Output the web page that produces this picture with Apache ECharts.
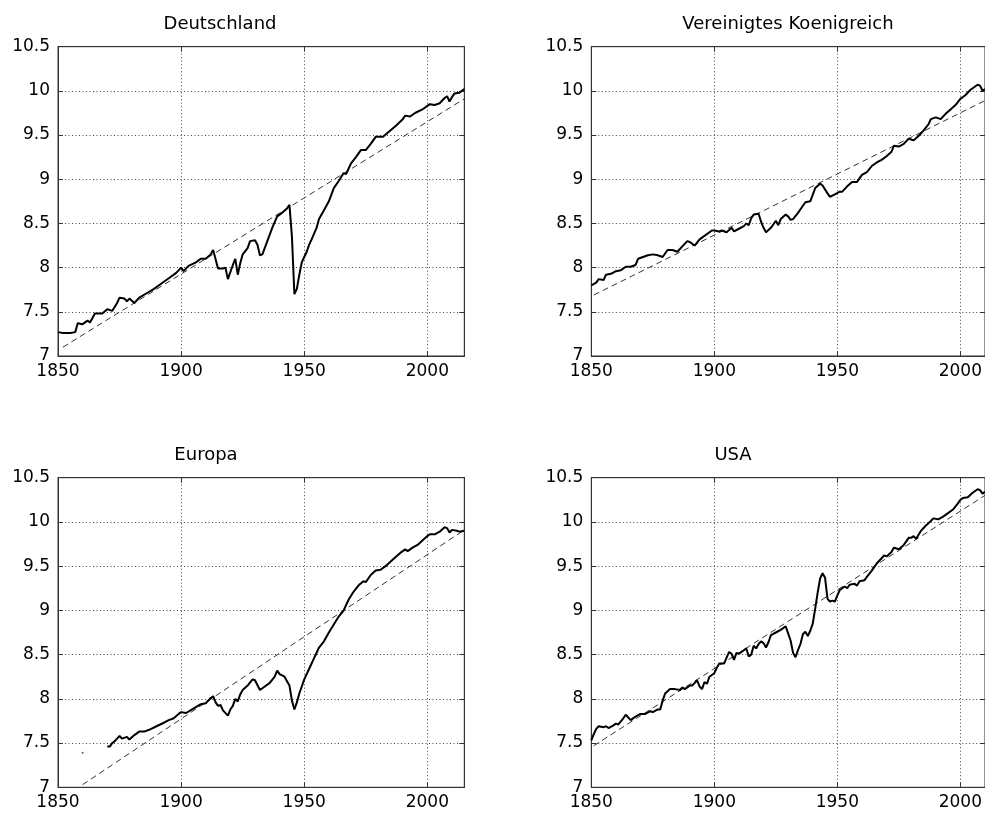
<!DOCTYPE html>
<html>
<head>
<meta charset="utf-8">
<script src="https://cdn.jsdelivr.net/npm/echarts@6/dist/echarts.min.js"></script>
<style>
  html, body { margin: 0; padding: 0; background: #fff; }
  #chart { width: 985px; height: 816px; }
</style>
</head>
<body>
<div id="chart"></div>
<script>
// log GDP per capita
const panelTitles = ['Deutschland', 'Vereinigtes Koenigreich', 'Europa', 'USA'];
const yTicks = [7, 7.5, 8, 8.5, 9, 9.5, 10, 10.5];
const xTicks = [1850, 1900, 1950, 2000];

const deutschland = [
  [1850, 7.27], [1852, 7.26], [1855, 7.26], [1857, 7.27], [1858, 7.37], [1860, 7.36], [1862, 7.40],
  [1863, 7.38], [1865, 7.48], [1868, 7.48], [1870, 7.53], [1872, 7.51], [1874, 7.60], [1875, 7.66],
  [1877, 7.65], [1878, 7.62], [1879, 7.65], [1881, 7.60], [1883, 7.66], [1886, 7.71], [1889, 7.76],
  [1892, 7.82], [1895, 7.88], [1898, 7.94], [1900, 8.00], [1901, 7.96], [1903, 8.02], [1906, 8.06],
  [1908, 8.10], [1910, 8.10], [1912, 8.15], [1913, 8.20], [1915, 7.99], [1917, 7.99], [1918, 8.00],
  [1919, 7.87], [1921, 8.03], [1922, 8.10], [1923, 7.92], [1924, 8.05], [1925, 8.15], [1927, 8.22],
  [1928, 8.30], [1930, 8.31], [1931, 8.26], [1932, 8.14], [1933, 8.15], [1935, 8.30], [1937, 8.45],
  [1939, 8.58], [1941, 8.62], [1943, 8.67], [1944, 8.71], [1945, 8.35], [1946, 7.70], [1947, 7.76],
  [1948, 7.92], [1949, 8.06], [1950, 8.12], [1951, 8.18], [1952, 8.26], [1953, 8.32], [1955, 8.45],
  [1956, 8.55], [1958, 8.65], [1960, 8.75], [1962, 8.90], [1964, 8.98], [1966, 9.07], [1967, 9.06],
  [1969, 9.18], [1971, 9.25], [1973, 9.33], [1975, 9.33], [1977, 9.40], [1979, 9.48], [1982, 9.48],
  [1984, 9.53], [1987, 9.60], [1990, 9.68], [1991, 9.72], [1993, 9.71], [1995, 9.75], [1998, 9.79],
  [2000, 9.83], [2001, 9.85], [2003, 9.84], [2005, 9.86], [2007, 9.92], [2008, 9.94], [2009, 9.88],
  [2010, 9.93], [2011, 9.97], [2013, 9.98], [2014, 10.00], [2015, 10.02]
];

const koenigreich = [
  [1850, 7.80], [1852, 7.83], [1853, 7.87], [1855, 7.86], [1856, 7.92], [1858, 7.93], [1860, 7.96],
  [1862, 7.97], [1864, 8.01], [1866, 8.01], [1868, 8.03], [1869, 8.10], [1871, 8.12], [1873, 8.14],
  [1875, 8.15], [1877, 8.14], [1879, 8.12], [1881, 8.20], [1883, 8.20], [1885, 8.18], [1887, 8.24],
  [1889, 8.30], [1890, 8.29], [1892, 8.25], [1894, 8.32], [1896, 8.36], [1899, 8.42], [1900, 8.42],
  [1902, 8.41], [1903, 8.42], [1905, 8.40], [1907, 8.45], [1908, 8.41], [1910, 8.44], [1912, 8.47],
  [1913, 8.50], [1914, 8.48], [1915, 8.56], [1916, 8.60], [1918, 8.61], [1919, 8.52], [1920, 8.45],
  [1921, 8.40], [1923, 8.45], [1925, 8.53], [1926, 8.48], [1927, 8.55], [1929, 8.60], [1930, 8.58],
  [1931, 8.54], [1932, 8.55], [1934, 8.62], [1936, 8.70], [1937, 8.74], [1939, 8.75], [1941, 8.90],
  [1943, 8.95], [1944, 8.93], [1946, 8.84], [1947, 8.80], [1949, 8.83], [1951, 8.86], [1952, 8.86],
  [1954, 8.92], [1956, 8.97], [1958, 8.97], [1960, 9.05], [1962, 9.08], [1964, 9.15], [1966, 9.19],
  [1968, 9.22], [1970, 9.26], [1972, 9.31], [1973, 9.38], [1975, 9.37], [1977, 9.40], [1979, 9.46],
  [1980, 9.45], [1981, 9.44], [1983, 9.49], [1985, 9.55], [1987, 9.62], [1988, 9.68], [1990, 9.70],
  [1992, 9.68], [1994, 9.74], [1996, 9.79], [1998, 9.84], [2000, 9.91], [2002, 9.95], [2004, 10.01],
  [2006, 10.05], [2007, 10.07], [2008, 10.06], [2009, 10.00], [2010, 10.02]
];

const europa = [
  [1870, 7.46], [1871, 7.46], [1872, 7.50], [1873, 7.52], [1874, 7.55], [1875, 7.58], [1876, 7.55],
  [1878, 7.57], [1879, 7.54], [1881, 7.59], [1883, 7.63], [1885, 7.63], [1887, 7.65], [1890, 7.69],
  [1893, 7.73], [1895, 7.76], [1897, 7.78], [1899, 7.83], [1900, 7.85], [1902, 7.84], [1905, 7.89],
  [1908, 7.94], [1910, 7.95], [1912, 8.01], [1913, 8.03], [1914, 7.96], [1915, 7.92], [1916, 7.93],
  [1917, 7.87], [1919, 7.81], [1920, 7.88], [1921, 7.92], [1922, 8.00], [1923, 7.97], [1924, 8.05],
  [1925, 8.10], [1927, 8.15], [1929, 8.22], [1930, 8.21], [1932, 8.10], [1934, 8.14], [1936, 8.18],
  [1938, 8.25], [1939, 8.32], [1940, 8.28], [1942, 8.25], [1943, 8.20], [1944, 8.15], [1945, 7.98],
  [1946, 7.88], [1947, 7.96], [1948, 8.06], [1949, 8.14], [1950, 8.22], [1952, 8.34], [1954, 8.46],
  [1956, 8.58], [1958, 8.65], [1960, 8.75], [1962, 8.84], [1964, 8.93], [1966, 9.00], [1968, 9.12],
  [1970, 9.21], [1972, 9.28], [1974, 9.33], [1975, 9.32], [1977, 9.40], [1979, 9.45], [1981, 9.46],
  [1983, 9.50], [1985, 9.55], [1987, 9.60], [1989, 9.65], [1991, 9.69], [1992, 9.67], [1994, 9.71],
  [1996, 9.74], [1998, 9.79], [2000, 9.84], [2001, 9.86], [2003, 9.86], [2005, 9.89], [2007, 9.94],
  [2008, 9.93], [2009, 9.88], [2010, 9.91], [2012, 9.90], [2013, 9.89], [2015, 9.90]
];
const europaStray = [[1860, 7.39]];

const usa = [
  [1850, 7.53], [1851, 7.60], [1852, 7.66], [1853, 7.69], [1855, 7.68], [1856, 7.69], [1857, 7.67],
  [1859, 7.70], [1860, 7.72], [1861, 7.71], [1863, 7.78], [1864, 7.82], [1866, 7.76], [1868, 7.80],
  [1870, 7.83], [1872, 7.83], [1874, 7.86], [1875, 7.85], [1877, 7.88], [1878, 7.88], [1879, 7.98],
  [1880, 8.06], [1882, 8.11], [1884, 8.11], [1886, 8.10], [1887, 8.13], [1888, 8.11], [1890, 8.15],
  [1891, 8.15], [1893, 8.21], [1894, 8.14], [1895, 8.11], [1896, 8.19], [1897, 8.17], [1898, 8.25],
  [1900, 8.29], [1901, 8.35], [1902, 8.40], [1904, 8.40], [1906, 8.53], [1907, 8.51], [1908, 8.44],
  [1909, 8.52], [1910, 8.51], [1912, 8.55], [1913, 8.57], [1914, 8.48], [1915, 8.50], [1916, 8.60],
  [1917, 8.57], [1918, 8.62], [1919, 8.65], [1920, 8.63], [1921, 8.58], [1922, 8.64], [1923, 8.72],
  [1925, 8.75], [1927, 8.78], [1929, 8.82], [1930, 8.74], [1931, 8.66], [1932, 8.52], [1933, 8.47],
  [1934, 8.55], [1935, 8.62], [1936, 8.73], [1937, 8.76], [1938, 8.71], [1939, 8.77], [1940, 8.85],
  [1941, 9.02], [1942, 9.20], [1943, 9.36], [1944, 9.42], [1945, 9.37], [1946, 9.13], [1947, 9.10],
  [1948, 9.11], [1949, 9.10], [1950, 9.17], [1951, 9.23], [1953, 9.27], [1954, 9.25], [1955, 9.29],
  [1957, 9.30], [1958, 9.28], [1959, 9.33], [1961, 9.34], [1962, 9.38], [1964, 9.45], [1966, 9.53],
  [1968, 9.59], [1969, 9.62], [1970, 9.61], [1972, 9.66], [1973, 9.71], [1974, 9.70], [1975, 9.69],
  [1977, 9.74], [1979, 9.82], [1980, 9.82], [1981, 9.84], [1982, 9.81], [1984, 9.90], [1986, 9.96],
  [1988, 10.01], [1989, 10.04], [1991, 10.03], [1993, 10.06], [1995, 10.10], [1997, 10.14],
  [1999, 10.21], [2000, 10.25], [2001, 10.27], [2003, 10.28], [2005, 10.33], [2007, 10.37],
  [2008, 10.36], [2009, 10.32], [2010, 10.34]
];

// linear trend lines (dashed)
const deTrend = [[1852, 7.10], [2015, 9.91]];
const ukTrend = [[1851, 7.69], [2010, 9.89]];
const euTrend = [[1860, 7.03], [2015, 9.91]];
const usTrend = [[1851, 7.47], [2010, 10.30]];

const panels = [
  { data: deutschland, trend: deTrend, xMax: 2015, left: 58, top: 46.7, width: 406.3, height: 309.3, titleX: 220, titleY: 24 },
  { data: koenigreich, trend: ukTrend, xMax: 2010, left: 591.3, top: 46.7, width: 394, height: 309.3, titleX: 788, titleY: 24 },
  { data: europa, trend: euTrend, xMax: 2015, left: 58, top: 477.7, width: 406.3, height: 309.6, titleX: 206, titleY: 455 },
  { data: usa, trend: usTrend, xMax: 2010, left: 591.3, top: 477.7, width: 394, height: 309.6, titleX: 733, titleY: 455 }
];

const fontFamily = 'DejaVu Sans';
const grid = [];
const xAxis = [];
const yAxis = [];
const series = [];
const graphic = [];

panels.forEach((p, i) => {
  grid.push({
    left: p.left, top: p.top, width: p.width, height: p.height,
    show: true, borderColor: '#333', borderWidth: 1, backgroundColor: '#fff'
  });
  const xBase = {
    gridIndex: i, type: 'value', min: xTicks[0], max: p.xMax, interval: 50,
    axisLine: { show: true, lineStyle: { color: '#333', width: 1 } },
    axisTick: { show: true, inside: true, length: 5, lineStyle: { color: '#333' } }
  };
  xAxis.push(Object.assign({}, xBase, {
    position: 'bottom',
    axisLabel: {
      show: true, margin: 7, color: '#000', fontSize: 17, fontFamily,
      showMaxLabel: false, formatter: (v) => String(v)
    },
    splitLine: { show: true, showMaxLine: false, lineStyle: { color: '#444', type: [1, 2.5], width: 1 } }
  }));
  xAxis.push(Object.assign({}, xBase, {
    position: 'top', axisLabel: { show: false }, splitLine: { show: false }
  }));
  const yBase = {
    gridIndex: i, type: 'value', min: yTicks[0], max: yTicks[yTicks.length - 1], interval: 0.5,
    axisLine: { show: true, lineStyle: { color: '#333', width: 1 } },
    axisTick: { show: true, inside: true, length: 5, lineStyle: { color: '#333' } }
  };
  yAxis.push(Object.assign({}, yBase, {
    position: 'left',
    axisLabel: { show: true, margin: 8, color: '#000', fontSize: 17, fontFamily },
    splitLine: { show: true, lineStyle: { color: '#444', type: [1, 2.5], width: 1 } }
  }));
  yAxis.push(Object.assign({}, yBase, {
    position: 'right', axisLabel: { show: false }, splitLine: { show: false }
  }));

  series.push({
    type: 'line', xAxisIndex: i * 2, yAxisIndex: i * 2, data: p.trend,
    showSymbol: false, silent: true,
    lineStyle: { color: '#333', width: 1, type: [6, 4] }
  });
  series.push({
    type: 'line', xAxisIndex: i * 2, yAxisIndex: i * 2, data: p.data,
    showSymbol: false, silent: true,
    lineStyle: { color: '#000', width: 2 }
  });

  graphic.push({
    type: 'text', x: p.titleX, y: p.titleY,
    style: {
      text: panelTitles[i], fill: '#000', fontSize: 18, fontFamily,
      textAlign: 'center', textVerticalAlign: 'middle'
    }
  });
});

series.push({
  type: 'scatter', xAxisIndex: 4, yAxisIndex: 4, data: europaStray,
  symbolSize: 2, silent: true, itemStyle: { color: '#333' }
});

const chart = echarts.init(document.getElementById('chart'));
chart.setOption({
  animation: false,
  backgroundColor: '#fff',
  grid,
  xAxis,
  yAxis,
  series,
  graphic
});
</script>
</body>
</html>
